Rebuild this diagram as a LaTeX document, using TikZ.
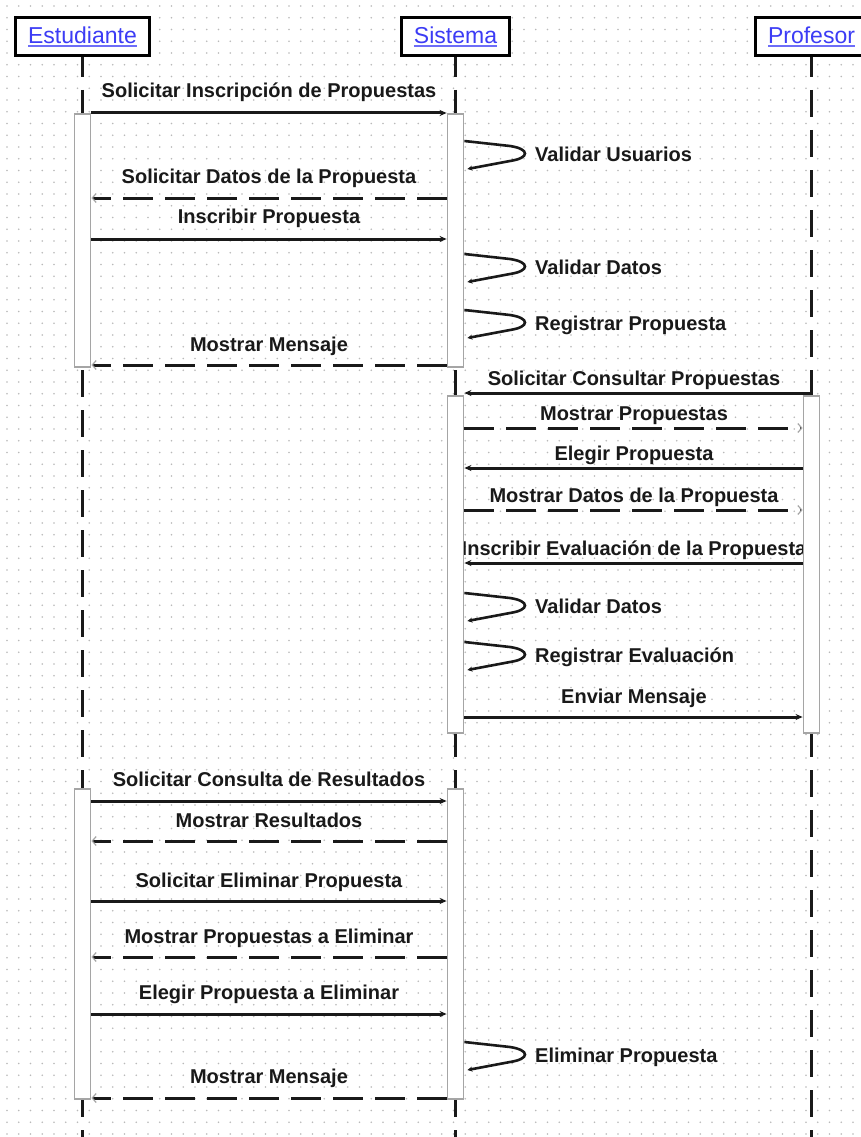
\documentclass[tikz,border=0pt]{standalone}
\usepackage{fontspec}
\setmainfont{Liberation Sans}
\usetikzlibrary{arrows.meta}
\definecolor{actorblue}{RGB}{60,60,245}
\definecolor{griddot}{RGB}{185,185,185}
\definecolor{barline}{RGB}{165,165,165}
\definecolor{ink}{RGB}{25,25,25}
% underlined participant name
\newcommand{\ulname}[1]{\setbox0=\hbox{#1}\rlap{\color{actorblue!75}\rule[-3.5pt]{\wd0}{1.8pt}}\box0}
% self message on an activation bar: bar, start y, node name, text
\newcommand{\selfmsg}[4]{%
  \draw[selfcall] (#1.east |- 0,#2) -- (510,{#2+5})
    .. controls (530,{#2+8}) and (530,{#2+17}) .. (510,{#2+20})
    -- ([xshift=3pt]#1.east |- 0,{#2+28});
  \node[lbl, anchor=base west] (#3) at (535,{#2+20}) {#4};
}
\begin{document}
\begin{tikzpicture}[x=1pt,y=-1pt,
  actor/.style={draw=black, line width=3pt, fill=white, minimum height=38pt,
    inner xsep=12.5pt, inner ysep=0pt, text=actorblue, font=\fontsize{23}{27}\selectfont},
  lifeline/.style={draw=ink, line width=3pt, dash pattern=on 27pt off 13pt, dash phase=7pt},
  bar/.style={draw=barline, line width=1.8pt, fill=white, minimum width=16pt,
    inner sep=0pt, anchor=north},
  lbl/.style={font=\bfseries\fontsize{20}{24}\selectfont, text=ink, inner sep=0pt, anchor=base},
  call/.style={draw=ink, line width=3pt, -{Stealth[length=7pt,width=6pt]}},
  reply/.style={draw=ink, line width=3pt, dash pattern=on 30pt off 12pt,
    -{Straight Barb[length=4pt,width=9pt,line width=1.2pt,color=barline]}},
  selfcall/.style={draw=ink, line width=2.6pt, -{Stealth[length=5pt,width=5pt]}}
]
\useasboundingbox (0,0) rectangle (861,1137);
\fill[white] (0,0) rectangle (861,1137);

% dotted background grid
\foreach \r in {0,...,96}
  \draw[griddot, line width=1.6pt, line cap=round, dash pattern=on 0pt off 11.75pt]
    (7,{6+\r*11.75}) -- (861,{6+\r*11.75});

% participants
\node[actor] (est) at (82.5,36.5) {\ulname{Estudiante}};
\node[actor] (sis) at (455.5,36.5) {\ulname{Sistema}};
\node[actor] (pro) at (811.5,36.5) {\ulname{Profesor}};

\coordinate (estEnd) at (82.5,1140);
\coordinate (sisEnd) at (455.5,1140);
\coordinate (proEnd) at (811.5,1140);

% lifelines
\draw[lifeline] (est.south) -- (estEnd);
\draw[lifeline] (sis.south) -- (sisEnd);
\draw[lifeline] (pro.south) -- (proEnd);

% message labels
\node[lbl] (t1)  at (269,98)   {Solicitar Inscripción de Propuestas};
\node[lbl] (t2)  at (269,183)  {Solicitar Datos de la Propuesta};
\node[lbl] (t3)  at (269,223)  {Inscribir Propuesta};
\node[lbl] (t4)  at (269,351)  {Mostrar Mensaje};
\node[lbl] (t5)  at (634,385)  {Solicitar Consultar Propuestas};
\node[lbl] (t6)  at (634,420)  {Mostrar Propuestas};
\node[lbl] (t7)  at (634,460)  {Elegir Propuesta};
\node[lbl] (t8)  at (634,502)  {Mostrar Datos de la Propuesta};
\node[lbl] (t9)  at (634,555)  {Inscribir Evaluación de la Propuesta};
\node[lbl] (t10) at (634,703)  {Enviar Mensaje};
\node[lbl] (t11) at (269,786)  {Solicitar Consulta de Resultados};
\node[lbl] (t12) at (269,827)  {Mostrar Resultados};
\node[lbl] (t13) at (269,887)  {Solicitar Eliminar Propuesta};
\node[lbl] (t14) at (269,943)  {Mostrar Propuestas a Eliminar};
\node[lbl] (t15) at (269,999)  {Elegir Propuesta a Eliminar};
\node[lbl] (t16) at (269,1083) {Mostrar Mensaje};

% activation bars
\node[bar, minimum height=253pt] (eA1) at (82.5,113) {};
\node[bar, minimum height=253pt] (sA1) at (455.5,113) {};
\node[bar, minimum height=337pt] (sA2) at (455.5,395) {};
\node[bar, minimum height=337pt] (pA1) at (811.5,395) {};
\node[bar, minimum height=310pt] (eA2) at (82.5,788) {};
\node[bar, minimum height=310pt] (sA3) at (455.5,788) {};

% first block: registration of a proposal
\draw[call]  (eA1.east |- 0,113) -- (sA1.west |- 0,113);
\draw[reply] (sA1.west |- 0,198) -- (eA1.east |- 0,198);
\draw[call]  (eA1.east |- 0,239) -- (sA1.west |- 0,239);
\draw[reply] (sA1.west |- 0,365) -- (eA1.east |- 0,365);
\selfmsg{sA1}{141}{s1}{Validar Usuarios}
\selfmsg{sA1}{254}{s2}{Validar Datos}
\selfmsg{sA1}{310}{s3}{Registrar Propuesta}

% second block: evaluation by the teacher
\draw[call]  (pA1.north |- 0,393) -- (sA2.east |- 0,393);
\draw[reply] (sA2.east |- 0,428) -- (pA1.west |- 0,428);
\draw[call]  (pA1.west |- 0,468) -- (sA2.east |- 0,468);
\draw[reply] (sA2.east |- 0,510) -- (pA1.west |- 0,510);
\draw[call]  (pA1.west |- 0,563) -- (sA2.east |- 0,563);
\draw[call]  (sA2.east |- 0,717) -- (pA1.west |- 0,717);
\selfmsg{sA2}{593}{s4}{Validar Datos}
\selfmsg{sA2}{642}{s5}{Registrar Evaluación}

% third block: results and removal
\draw[call]  (eA2.east |- 0,801)  -- (sA3.west |- 0,801);
\draw[reply] (sA3.west |- 0,841)  -- (eA2.east |- 0,841);
\draw[call]  (eA2.east |- 0,901)  -- (sA3.west |- 0,901);
\draw[reply] (sA3.west |- 0,957)  -- (eA2.east |- 0,957);
\draw[call]  (eA2.east |- 0,1014) -- (sA3.west |- 0,1014);
\draw[reply] (sA3.west |- 0,1098) -- (eA2.east |- 0,1098);
\selfmsg{sA3}{1042}{s6}{Eliminar Propuesta}
\end{tikzpicture}
\end{document}
